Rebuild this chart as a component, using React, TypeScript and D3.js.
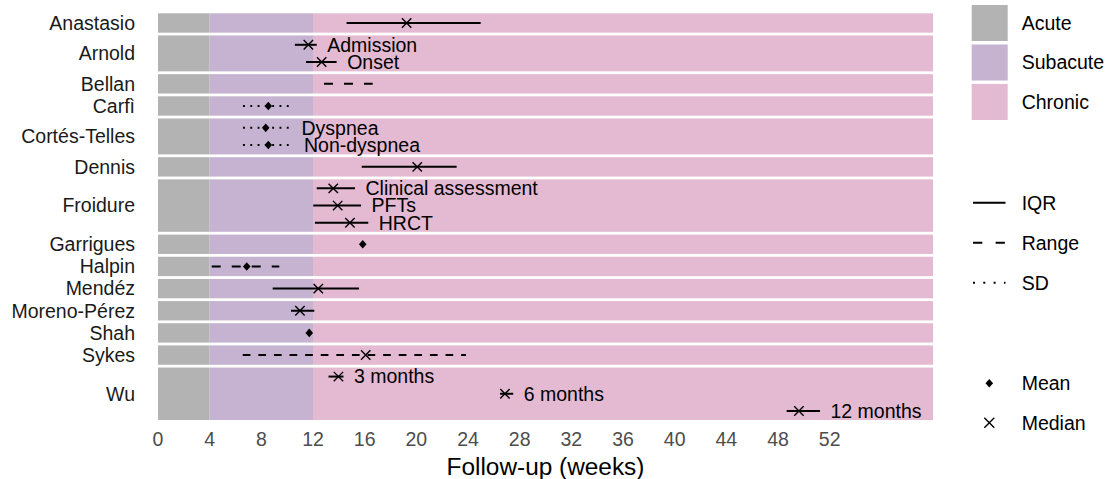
import React from "react";
import * as d3 from "d3";

// ---- data ----
const studies = ["Anastasio", "Arnold", "Bellan", "Carfì", "Cortés-Telles", "Dennis", "Froidure", "Garrigues", "Halpin", "Mendéz", "Moreno-Pérez", "Shah", "Sykes", "Wu"];
const rowStudy = ["Anastasio", "Arnold", "Arnold", "Bellan", "Carfì", "Cortés-Telles", "Cortés-Telles", "Dennis", "Froidure", "Froidure", "Froidure", "Garrigues", "Halpin", "Mendéz", "Moreno-Pérez", "Shah", "Sykes", "Wu", "Wu", "Wu"];
const rowLabel = ["", "Admission", "Onset", "", "", "Dyspnea", "Non-dyspnea", "", "Clinical assessment", "PFTs", "HRCT", "", "", "", "", "", "", "3 months", "6 months", "12 months"];
const rowSpread = ["IQR", "IQR", "IQR", "Range", "SD", "SD", "SD", "IQR", "IQR", "IQR", "IQR", "", "Range", "IQR", "IQR", "", "Range", "IQR", "IQR", "IQR"];
const rowCentre = ["Median", "Median", "Median", "", "Mean", "Mean", "Mean", "Median", "Median", "Median", "Median", "Mean", "Mean", "Median", "Median", "Mean", "Median", "Median", "Median", "Median"];
const rowLow: (number | null)[] = [14.6, 10.6, 11.46, 12.85, 6.58, 6.58, 6.58, 15.77, 12.29, 12.02, 12.15, null, 4.16, 8.88, 10.3, null, 6.56, 13.2, 26.48, 48.67];
const rowMid: (number | null)[] = [19.25, 11.64, 12.67, null, 8.54, 8.34, 8.54, 20.07, 13.57, 13.91, 14.86, 15.85, 6.87, 12.41, 10.99, 11.71, 16.08, 13.97, 26.86, 49.62];
const rowHigh: (number | null)[] = [24.98, 12.29, 13.83, 16.62, 10.49, 10.3, 10.49, 23.12, 15.25, 15.72, 16.28, null, 9.39, 15.56, 12.1, null, 23.84, 14.36, 27.5, 51.25];

const phaseNames = ["Acute", "Subacute", "Chronic"];
const phaseStart = [0, 4, 12];
const phaseEnd = [4, 12, 60];
const xTicks = [0, 4, 8, 12, 16, 20, 24, 28, 32, 36, 40, 44, 48, 52];
const spreadNames = ["IQR", "Range", "SD"];
const centreNames = ["Mean", "Median"];

// ---- styles ----
const phaseColors = ["#B3B3B3", "#C5B3D1", "#E3BAD2"];
const FONT = "'Liberation Sans', Arial, Helvetica, sans-serif";
const plotDash: Record<string, string | undefined> = { IQR: undefined, Range: "9 11", SD: "1.9 5.4" };
const dashOverride: Record<string, string> = { Sykes: "7.7 7.9" };
const legendDash: Record<string, string | undefined> = { IQR: undefined, Range: "9.3 13.3", SD: "2 8.3" };

const W = 1109, H = 479;
const panelLeft = 158, panelRight = 933;
const panelTop = 13.3, panelBottom = 420;
const gap = 2.8;
const rowStep = 17.2;

function Diamond({ x, y, hw = 3.8, hh = 4.3 }: { x: number; y: number; hw?: number; hh?: number }) {
  return <path d={`M${x},${y - hh}L${x + hw},${y}L${x},${y + hh}L${x - hw},${y}Z`} fill="#000" />;
}
function Cross({ x, y, s = 4.7, sw = 1.4 }: { x: number; y: number; s?: number; sw?: number }) {
  return (
    <path d={`M${x - s},${y - s}L${x + s},${y + s}M${x - s},${y + s}L${x + s},${y - s}`} stroke="#000" strokeWidth={sw} fill="none" />
  );
}

export default function App() {
  const x = d3.scaleLinear().domain([0, 60]).range([panelLeft, panelRight]);

  const counts = studies.map((s) => rowStudy.filter((r) => r === s).length);
  const units = counts.map((n) => n + 0.17);
  const totalUnits = d3.sum(units);
  const unit = (panelBottom - panelTop - gap * (studies.length - 1)) / totalUnits;

  const panels: { study: string; top: number; h: number; y: d3.ScalePoint<string> }[] = [];
  let cur = panelTop;
  studies.forEach((s, i) => {
    const h = units[i] * unit;
    const n = counts[i];
    const idx = rowStudy.map((r, j) => (r === s ? String(j) : null)).filter((v) => v !== null) as string[];
    const pad = n > 1 ? (h / rowStep - (n - 1)) / 2 : 0.5;
    const y = d3.scalePoint<string>().domain(idx).range([cur, cur + h]).padding(pad);
    panels.push({ study: s, top: cur, h, y });
    cur += h + gap;
  });
  const panelOf = (s: string) => panels.find((p) => p.study === s)!;

  return (
    <svg width={W} height={H} style={{ position: "absolute", left: 0, top: 0, fontFamily: FONT }}>
      <rect x={0} y={0} width={W} height={H} fill="#fff" />
      {panels.map((p) => (
        <g key={p.study}>
          {phaseNames.map((ph, k) => (
            <rect key={ph} x={x(phaseStart[k])} y={p.top} width={x(phaseEnd[k]) - x(phaseStart[k])} height={p.h} fill={phaseColors[k]} />
          ))}
          <text x={135} y={p.top + p.h / 2} dy="0.35em" textAnchor="end" fontSize={19.5} fill="#1A1A1A">
            {p.study}
          </text>
        </g>
      ))}
      {rowStudy.map((s, j) => {
        const p = panelOf(s);
        const yy = p.y(String(j))!;
        const lo = rowLow[j], hi = rowHigh[j], mid = rowMid[j];
        const dash = rowSpread[j] === "Range" && dashOverride[s] ? dashOverride[s] : plotDash[rowSpread[j]];
        return (
          <g key={j}>
            {lo !== null && hi !== null && rowSpread[j] !== "" && (
              <line x1={x(lo)} x2={x(hi)} y1={yy} y2={yy} stroke="#000" strokeWidth={2} strokeDasharray={dash} />
            )}
            {mid !== null && rowCentre[j] === "Mean" && <Diamond x={x(mid)} y={yy} />}
            {mid !== null && rowCentre[j] === "Median" && <Cross x={x(mid)} y={yy} />}
            {rowLabel[j] !== "" && (
              <text x={x((hi ?? mid) as number) + 10.5} y={yy} dy="0.35em" fontSize={19.5} fill="#000">
                {rowLabel[j]}
              </text>
            )}
          </g>
        );
      })}
      {xTicks.map((t) => (
        <text key={t} x={x(t)} y={446} textAnchor="middle" fontSize={19.5} fill="#4D4D4D">
          {t}
        </text>
      ))}
      <text x={(panelLeft + panelRight) / 2} y={475} textAnchor="middle" fontSize={24.4} fill="#000">
        Follow-up (weeks)
      </text>
      {/* legends */}
      {phaseNames.map((ph, k) => (
        <g key={ph}>
          <rect x={971.7} y={5 + k * 39.5} width={36} height={36} fill={phaseColors[k]} />
          <text x={1021.7} y={23 + k * 39.5} dy="0.35em" fontSize={19.5} fill="#000">
            {ph}
          </text>
        </g>
      ))}
      {spreadNames.map((sp, k) => (
        <g key={sp}>
          <line x1={973} x2={1005.5} y1={202.7 + k * 40} y2={202.7 + k * 40} stroke="#000" strokeWidth={2} strokeDasharray={legendDash[sp]} />
          <text x={1021.7} y={202.7 + k * 40} dy="0.35em" fontSize={19.5} fill="#000">
            {sp}
          </text>
        </g>
      ))}
      {centreNames.map((c, k) => (
        <g key={c}>
          {c === "Mean" ? <Diamond x={989.3} y={383.3 + k * 39.4} /> : <Cross x={989.3} y={383.3 + k * 39.4} s={5} sw={1.4} />}
          <text x={1021.7} y={383.3 + k * 39.4} dy="0.35em" fontSize={19.5} fill="#000">
            {c}
          </text>
        </g>
      ))}
    </svg>
  );
}
